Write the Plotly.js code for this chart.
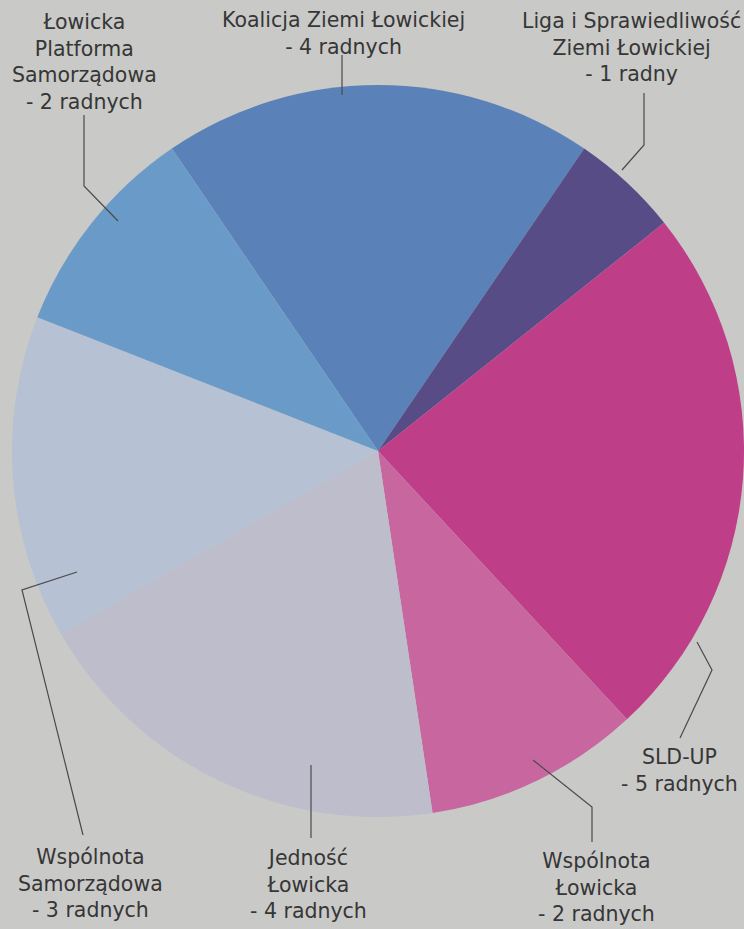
<!DOCTYPE html>
<html>
<head>
<meta charset="utf-8">
<script src="https://cdn.plot.ly/plotly-3.0.1.min.js"></script>
<style>
html,body{margin:0;padding:0;background:#c9c9c7;}
#chart{width:744px;height:929px;}
</style>
</head>
<body>
<div id="chart"></div>
<script>
// ---- data ----
var parties = [
  "Koalicja Ziemi Łowickiej",
  "Liga i Sprawiedliwość Ziemi Łowickiej",
  "SLD-UP",
  "Wspólnota Łowicka",
  "Jedność Łowicka",
  "Wspólnota Samorządowa",
  "Łowicka Platforma Samorządowa"
];
var seats = [4, 1, 5, 2, 4, 3, 2];
var labelTexts = [
  "Koalicja Ziemi Łowickiej<br>- 4 radnych",
  "Liga i Sprawiedliwość<br>Ziemi Łowickiej<br>- 1 radny",
  "SLD-UP<br>- 5 radnych",
  "Wspólnota<br>Łowicka<br>- 2 radnych",
  "Jedność<br>Łowicka<br>- 4 radnych",
  "Wspólnota<br>Samorządowa<br>- 3 radnych",
  "Łowicka<br>Platforma<br>Samorządowa<br>- 2 radnych"
];
var sliceColors = ["#5a82b9", "#574c85", "#bf3e88", "#c8679f", "#bdbdcc", "#b6c1d3", "#6a9bc8"];

// ---- layout helpers (positions in page pixels) ----
var W = 744, H = 929;
function px(x) { return x / W; }
function py(y) { return 1 - y / H; }

var labelPos = [
  [343, 34], [631, 47], [679, 770], [596, 887], [308, 884], [90, 883], [84, 62]
];
var leaderLines = [
  [[342, 55], [342, 95]],
  [[644, 93], [644, 145], [622, 170]],
  [[680, 738], [712, 670], [697, 642]],
  [[592, 842], [592, 807], [533, 760]],
  [[311, 765], [311, 838]],
  [[83, 835], [22, 590], [77, 572]],
  [[84, 115], [84, 186], [118, 221]]
];

var total = seats.reduce(function (a, b) { return a + b; }, 0);

var annotations = labelTexts.map(function (t, i) {
  return {
    text: t, xref: "paper", yref: "paper",
    x: px(labelPos[i][0]), y: py(labelPos[i][1]),
    xanchor: "center", yanchor: "middle", showarrow: false, align: "center",
    font: { family: "DejaVu Sans, sans-serif", size: 20.5, color: "#363636" }
  };
});

var shapes = leaderLines.map(function (pts) {
  var d = pts.map(function (p, k) {
    return (k ? "L" : "M") + px(p[0]).toFixed(5) + "," + py(p[1]).toFixed(5);
  }).join(" ");
  return { type: "path", xref: "paper", yref: "paper", path: d,
           line: { color: "#4a4a4a", width: 1.2 } };
});

var cx = 378, cy = 451, r = 366;

var trace = {
  type: "pie",
  labels: parties,
  values: seats,
  sort: false,
  direction: "clockwise",
  // first slice centred on 12 o'clock
  rotation: -180 * seats[0] / total,
  marker: { colors: sliceColors, line: { width: 0 } },
  textinfo: "none",
  hoverinfo: "label+value",
  showlegend: false,
  domain: { x: [px(cx - r), px(cx + r)], y: [py(cy + r), py(cy - r)] }
};

var layout = {
  width: W, height: H,
  margin: { l: 0, r: 0, t: 0, b: 0 },
  paper_bgcolor: "#c9c9c7",
  plot_bgcolor: "#c9c9c7",
  showlegend: false,
  annotations: annotations,
  shapes: shapes
};

Plotly.newPlot("chart", [trace], layout, { displayModeBar: false, staticPlot: true });
</script>
</body>
</html>
